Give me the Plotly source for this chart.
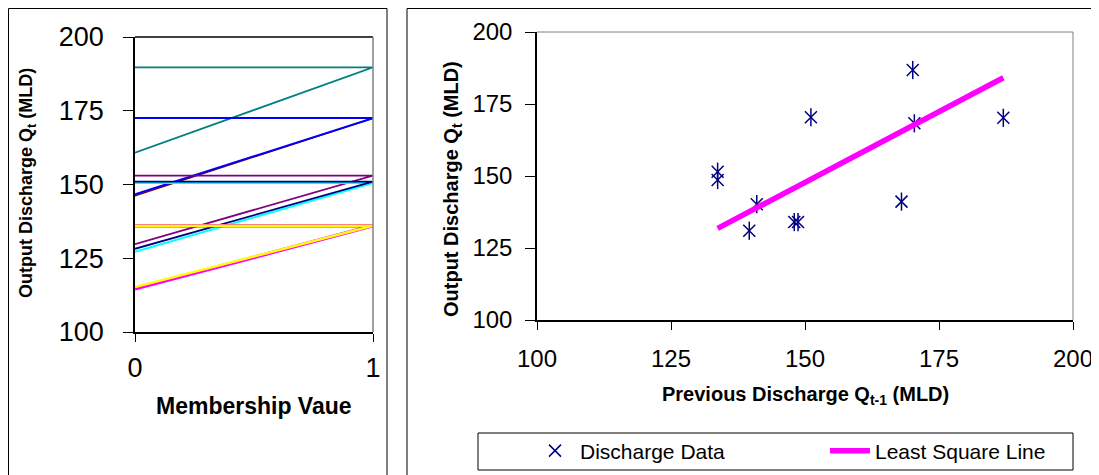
"""Fuzzy output membership lines and lagged discharge scatter, side by side."""

import plotly.graph_objects as go

# the page body keeps an 8px margin, so the figure is drawn 8px smaller
# and all layout positions below are given in window pixels
OFF = 8
W, H = 1099 - OFF, 475 - OFF
FONT = "Liberation Sans, Arial, sans-serif"

# left panel: each output set drawn as a horizontal line at its peak value
# and a slope from the lower value (membership 0) up to the peak (membership 1)
set_names = ["teal", "darkred", "blue", "purple", "cyan", "navy", "magenta", "yellow"]
set_colors = ["#008080", "#800000", "#0000FF", "#800080", "#00FFFF", "#000080", "#FF00FF", "#FFFF00"]
set_widths = [1.8, 1.5, 2, 1.8, 2, 1.8, 3.5, 2.5]
set_high = [189.7, 172.5, 172.5, 153.0, 150.5, 151.0, 136.0, 136.0]
set_low = [160.8, 146.2, 146.7, 129.8, 127.2, 128.2, 114.6, 115.2]
membership_ticks = [0, 1]
q_ticks = [100, 125, 150, 175, 200]

# right panel: Q(t) against Q(t-1)
prev_discharge = [133.7, 133.7, 141.0, 139.6, 148.0, 148.7, 151.1, 168.0, 170.1, 170.4, 187.0]
out_discharge = [151.5, 148.6, 140.2, 131.0, 134.0, 134.0, 170.4, 141.1, 186.8, 168.3, 170.2]
ls_x = [133.7, 187.0]
ls_y = [131.8, 184.1]


def px_x(v):
    return (v - OFF) / W


def px_y(v):
    return 1 - (v - OFF) / H


fig = go.Figure()

for name, color, width, hi, lo in zip(set_names, set_colors, set_widths, set_high, set_low):
    fig.add_trace(
        go.Scatter(
            x=[0, 1, 0],
            y=[hi, hi, lo],
            mode="lines",
            name=name,
            line=dict(color=color, width=width),
            showlegend=False,
            xaxis="x",
            yaxis="y",
        )
    )

fig.add_trace(
    go.Scatter(
        x=prev_discharge,
        y=out_discharge,
        mode="markers",
        name="Discharge Data",
        marker=dict(symbol="x-thin-open", size=12, color="#000080", line=dict(color="#000080", width=1.5)),
        xaxis="x2",
        yaxis="y2",
    )
)
fig.add_trace(
    go.Scatter(
        x=prev_discharge,
        y=out_discharge,
        mode="markers",
        name="Discharge Data",
        marker=dict(symbol="line-ns-open", size=13, color="#000080", line=dict(color="#000080", width=1.5)),
        showlegend=False,
        xaxis="x2",
        yaxis="y2",
    )
)
fig.add_trace(
    go.Scatter(
        x=ls_x,
        y=ls_y,
        mode="lines",
        name="Least Square Line",
        line=dict(color="#FF00FF", width=5.5),
        xaxis="x2",
        yaxis="y2",
    )
)

axis_common = dict(
    showgrid=False,
    zeroline=False,
    showline=True,
    linecolor="#000000",
    linewidth=1.5,
    ticks="outside",
    tickcolor="#000000",
    tickwidth=1,
    automargin=False,
)

fig.update_layout(
    width=W,
    height=H,
    margin=dict(l=0, r=0, t=0, b=0, autoexpand=False),
    paper_bgcolor="#ffffff",
    plot_bgcolor="#ffffff",
    font=dict(family=FONT, color="#000000"),
    xaxis=dict(
        domain=[px_x(135), px_x(373)],
        range=[0, 1],
        tickvals=membership_ticks,
        ticklen=8,
        ticklabelstandoff=3,
        tickfont=dict(size=27),
        anchor="y",
        **axis_common,
    ),
    yaxis=dict(
        domain=[px_y(332), px_y(37)],
        range=[100, 200],
        tickvals=q_ticks,
        ticklen=10,
        ticklabelstandoff=14,
        tickfont=dict(size=27),
        anchor="x",
        **axis_common,
    ),
    xaxis2=dict(
        domain=[px_x(537), px_x(1073)],
        range=[100, 200],
        tickvals=q_ticks,
        ticklen=8,
        ticklabelstandoff=8,
        tickfont=dict(size=24),
        anchor="y2",
        **axis_common,
    ),
    yaxis2=dict(
        domain=[px_y(320), px_y(32)],
        range=[100, 200],
        tickvals=q_ticks,
        ticklen=10,
        ticklabelstandoff=8,
        tickfont=dict(size=24),
        anchor="x2",
        **axis_common,
    ),
    showlegend=True,
    legend=dict(
        orientation="h",
        x=px_x(530),
        y=px_y(451),
        xanchor="left",
        yanchor="middle",
        font=dict(size=21),
        bgcolor="rgba(0,0,0,0)",
        entrywidth=240,
        itemwidth=40,
    ),
)

shapes = [
    # panel frames
    dict(type="rect", xref="paper", yref="paper", x0=px_x(8.5), x1=px_x(387), y0=-0.1, y1=px_y(8.5),
         line=dict(color="#000000", width=1)),
    dict(type="rect", xref="paper", yref="paper", x0=px_x(407), x1=px_x(1095), y0=-0.1, y1=px_y(8.5),
         line=dict(color="#000000", width=1)),
    # legend box
    dict(type="rect", xref="paper", yref="paper", x0=px_x(478), x1=px_x(1073), y0=px_y(470), y1=px_y(433),
         line=dict(color="#000000", width=1)),
    # plot-area top/right edges
    dict(type="line", xref="x domain", yref="y domain", x0=0, x1=1, y0=1, y1=1,
         line=dict(color="#000000", width=1.5)),
    dict(type="line", xref="x domain", yref="y domain", x0=1, x1=1, y0=0, y1=1,
         line=dict(color="#808080", width=1.5)),
    dict(type="line", xref="x2 domain", yref="y2 domain", x0=0, x1=1, y0=1, y1=1,
         line=dict(color="#808080", width=1)),
    dict(type="line", xref="x2 domain", yref="y2 domain", x0=1, x1=1, y0=0, y1=1,
         line=dict(color="#808080", width=1)),
]
fig.update_layout(shapes=shapes)

title_font = dict(family=FONT, size=20, color="#000000")
annotations = [
    dict(text="<b>Membership Vaue</b>", x=px_x(254), y=px_y(406), font=dict(family=FONT, size=23)),
    dict(text="<b>Output Discharge Q<sub>t</sub> (MLD)</b>", x=px_x(28), y=px_y(183), textangle=-90,
         font=dict(family=FONT, size=18)),
    dict(text="<b>Previous Discharge Q<sub>t-1</sub> (MLD)</b>", x=px_x(805), y=px_y(395), font=title_font),
    dict(text="<b>Output Discharge Q<sub>t</sub> (MLD)</b>", x=px_x(452), y=px_y(189), textangle=-90,
         font=title_font),
]
for a in annotations:
    a.update(xref="paper", yref="paper", showarrow=False, xanchor="center", yanchor="middle")
fig.update_layout(annotations=annotations)

fig.write_html("out.html")
